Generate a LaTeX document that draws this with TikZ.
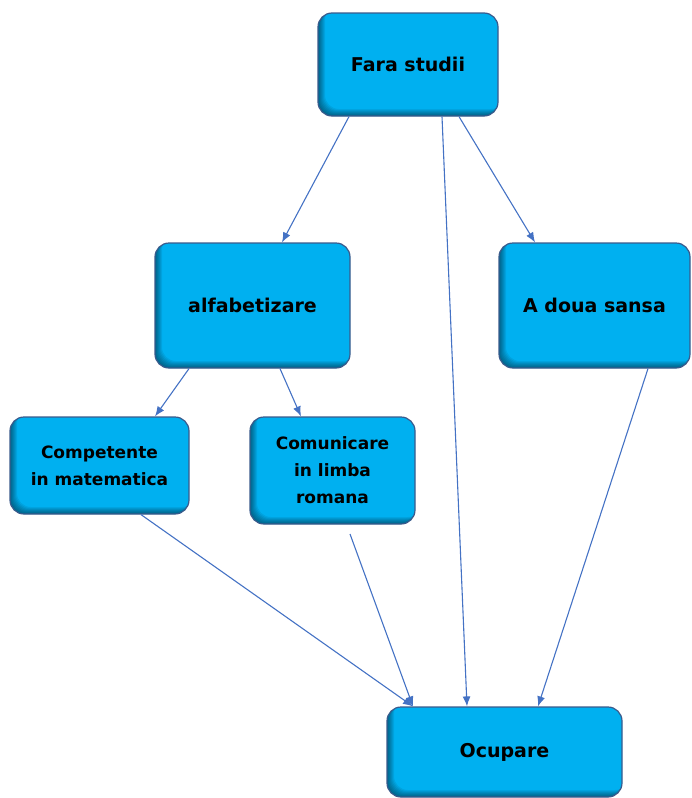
\documentclass[tikz,border=0pt]{standalone}
\usepackage{fontspec}
\setmainfont{DejaVu Sans}
\usetikzlibrary{arrows,arrows.meta,positioning,shapes}

\definecolor{boxfill}{HTML}{00B0F0}
\definecolor{boxline}{HTML}{3A5A8C}
\definecolor{arrowcol}{HTML}{4472C4}

\begin{document}
\begin{tikzpicture}[x=1pt,y=-1pt,
            box/.style={draw=boxline,fill=boxfill,rounded corners=14,line width=1.2,align=center,
              font=\bfseries\fontsize{19}{23}\selectfont,
              path picture={
                \foreach \d in {1,2,3,4,5,6,7}{
                  \fill[black,draw=none,opacity=0.07,even odd rule]
                    ([shift={(-20,20)}]path picture bounding box.south west) rectangle
                    ([shift={(20,-20)}]path picture bounding box.north east)
                    [rounded corners=14]
                    ([shift={(\d,-\d)}]path picture bounding box.south west) rectangle
                    ([shift={(\d,-\d)}]path picture bounding box.north east);
                }}},
            small/.style={box,font=\bfseries\fontsize{17}{27}\selectfont},
            link/.style={draw=arrowcol,line width=1.1,-{Latex[length=10,width=8]}}
          ]
          \useasboundingbox (0,0) rectangle (691,798);
          %boxes
          \node[box,minimum width=180,minimum height=103] (fara) at (408,64.5) {Fara studii};
          \node[box,minimum width=195,minimum height=125] (alfa) at (252.5,305.5) {alfabetizare};
          \node[box,minimum width=191,minimum height=125] (doua) at (594.5,305.5) {A doua sansa};
          \node[small,minimum width=179,minimum height=97] (mate) at (99.5,465.5) {Competente\\in matematica};
          \node[small,minimum width=165,minimum height=107] (comu) at (332.5,470.5) {Comunicare\\in limba\\romana};
          \node[box,minimum width=235,minimum height=90] (ocup) at (504.5,752) {Ocupare};

          %ends below boxes
          \coordinate (comuend) at (350,534);

          %arrows
          \path
          ([xshift=-59]fara.south) edge[link] ([xshift=29.5]alfa.north)
          ([xshift=34]fara.south) edge[link] ([xshift=-37.5]ocup.north)
          ([xshift=51]fara.south) edge[link] ([xshift=-59.5]doua.north)
          ([xshift=-63.5]alfa.south) edge[link] ([xshift=55.5]mate.north)
          ([xshift=27.5]alfa.south) edge[link] ([xshift=-31.5]comu.north)
          ([xshift=41.5]mate.south) edge[link] ([xshift=-91.5]ocup.north)
          (comuend) edge[link] ([xshift=-91.5]ocup.north)
          ([xshift=53.5]doua.south) edge[link] ([xshift=33.5]ocup.north)
          ;
\end{tikzpicture}
\end{document}
